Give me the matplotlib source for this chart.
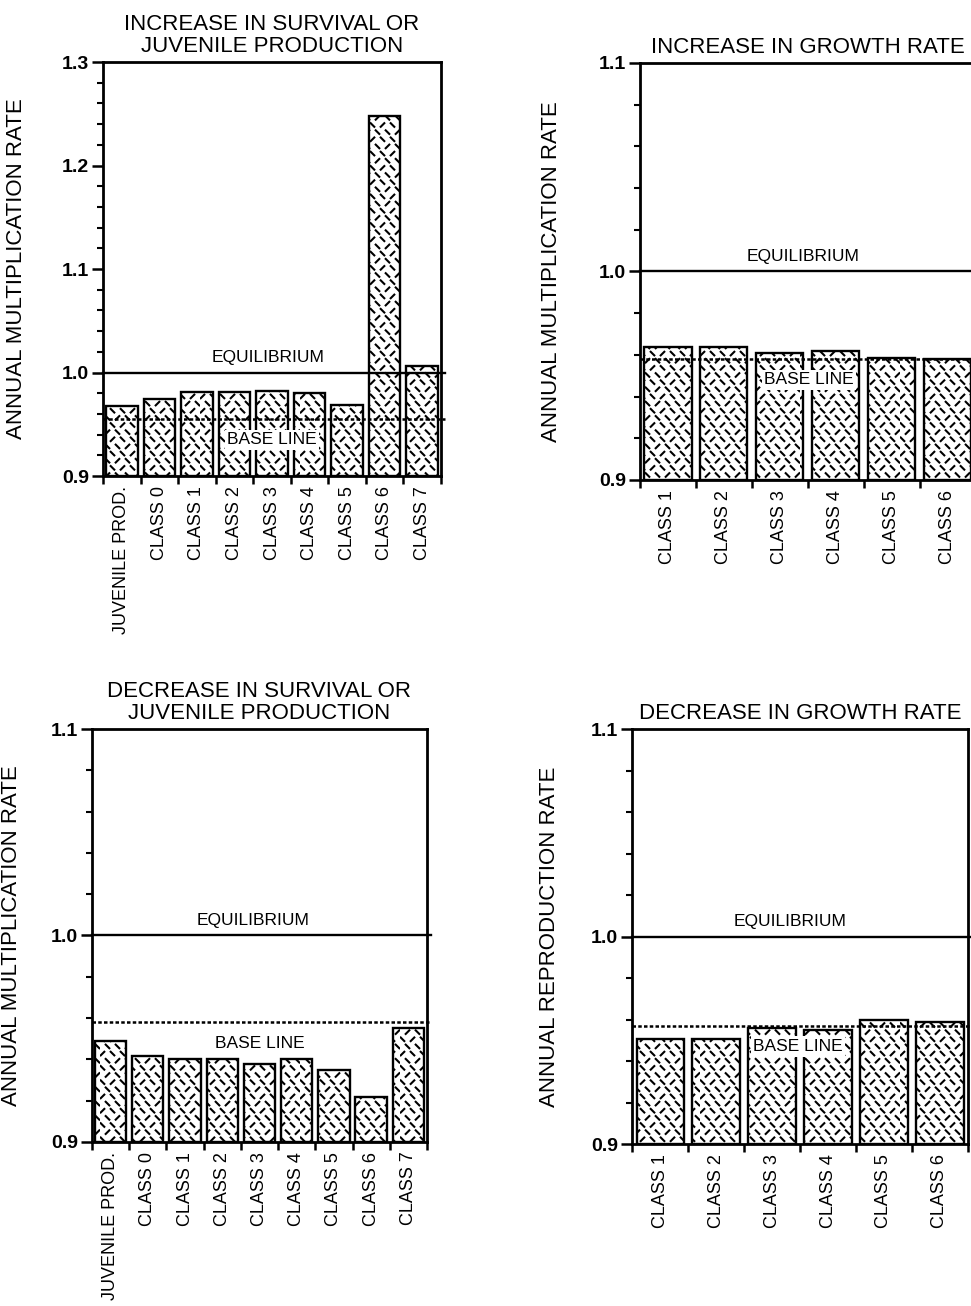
import numpy as np
import matplotlib
matplotlib.use("Agg")
import matplotlib.pyplot as plt
import matplotlib.hatch as mhatch
from matplotlib.path import Path
from matplotlib.ticker import MultipleLocator, FixedLocator

plt.rcParams['font.family'] = ['Liberation Sans', 'DejaVu Sans']
plt.rcParams['hatch.linewidth'] = 1.5

# ---- data ----
survival_classes = ["JUVENILE PROD.", "CLASS 0", "CLASS 1", "CLASS 2", "CLASS 3",
                    "CLASS 4", "CLASS 5", "CLASS 6", "CLASS 7"]
growth_classes = ["CLASS 1", "CLASS 2", "CLASS 3", "CLASS 4", "CLASS 5", "CLASS 6"]

inc_survival = [0.968, 0.974, 0.981, 0.981, 0.982, 0.980, 0.969, 1.248, 1.006]
inc_growth = [0.964, 0.964, 0.961, 0.962, 0.9585, 0.958]
dec_survival = [0.949, 0.9415, 0.940, 0.940, 0.938, 0.940, 0.935, 0.922, 0.955]
dec_growth = [0.9505, 0.9505, 0.956, 0.955, 0.960, 0.9588]

base_inc_survival = 0.955
base_inc_growth = 0.958
base_dec_survival = 0.958
base_dec_growth = 0.957
equilibrium = 1.0
y_floor = 0.9


# staggered short diagonal dashes used as the bar fill ('*' hatch)
class DashWeave(mhatch.HatchPatternBase):
    def __init__(self, hatch, density):
        k = hatch.count('*')
        self.cols = 10 * k
        self.rows = 14 * k
        self.num_lines = self.cols * self.rows
        self.num_vertices = 2 * self.num_lines

    def set_vertices_and_codes(self, vertices, codes):
        d = 0.018
        k = 0
        for j in range(self.rows):
            y = (j + 0.5) / self.rows
            shift = 0.25 if j % 2 == 0 else 0.75
            for i in range(self.cols):
                x = (i + shift) / self.cols
                s = 1 if (i + j) % 3 == 0 else -1
                vertices[k] = (x - d, y - s * d)
                vertices[k + 1] = (x + d, y + s * d)
                codes[k] = Path.MOVETO
                codes[k + 1] = Path.LINETO
                k += 2


mhatch._hatch_types = [t for t in mhatch._hatch_types if t is not mhatch.Stars] + [DashWeave]

fig = plt.figure(figsize=(9.71, 13.06), dpi=100)


def draw_panel(rect, title, labels, values, base, ymax, ylabel, ylabel_x, eq_x, base_x):
    ax = fig.add_axes(rect)
    n = len(labels)
    pos = np.arange(n) + 0.5
    heights = np.array(values) - y_floor
    ax.bar(pos, heights, bottom=y_floor, width=0.84, color='white',
           edgecolor='black', linewidth=1.7, hatch='*', zorder=2)

    ax.axhline(equilibrium, xmin=0, xmax=1.012, color='black', lw=1.7,
               clip_on=False, zorder=3)
    ax.axhline(base, xmin=0, xmax=1.012, color='black', lw=1.8,
               linestyle=(0, (1.4, 0.9)), clip_on=False, zorder=3)

    ax.annotate("EQUILIBRIUM", xy=(eq_x, equilibrium),
                xycoords=('axes fraction', 'data'), xytext=(0, 11),
                textcoords='offset points', ha='center', va='center',
                fontsize=12.5, zorder=5)
    ax.annotate("BASE LINE", xy=(base_x, base),
                xycoords=('axes fraction', 'data'), xytext=(0, -15),
                textcoords='offset points', ha='center', va='center',
                fontsize=12.5, zorder=5,
                bbox=dict(boxstyle='square,pad=0.15', fc='white', ec='none'))

    ax.set_xlim(0, n)
    ax.set_ylim(y_floor, ymax)

    major = np.arange(y_floor, ymax + 1e-6, 0.1)
    ax.set_yticks(np.round(major, 1))
    ax.set_yticklabels([f"{v:.1f}" for v in major], fontsize=14, fontweight='bold')
    ax.yaxis.set_minor_locator(MultipleLocator(0.02))
    ax.tick_params(axis='y', which='major', direction='out', length=8, width=1.8, pad=2)
    ax.tick_params(axis='y', which='minor', direction='out', length=4, width=1.5)

    # slot boundaries carry the tick marks, labels sit at the bar centres
    ax.xaxis.set_major_locator(FixedLocator(np.arange(n + 1)))
    ax.xaxis.set_minor_locator(FixedLocator(pos))
    ax.set_xticklabels([""] * (n + 1))
    ax.set_xticklabels(labels, minor=True, rotation=90, fontsize=13, va='top')
    ax.tick_params(axis='x', which='major', direction='out', length=6, width=1.8)
    ax.tick_params(axis='x', which='minor', length=0, pad=7)

    for sp in ax.spines.values():
        sp.set_linewidth(2.0)

    ax.set_title(title, fontsize=16, pad=7, linespacing=1.1)
    ax.set_ylabel(ylabel, fontsize=16)
    ax.yaxis.set_label_coords(ylabel_x, 0.5)
    return ax


draw_panel([0.1061, 0.6355, 0.3481, 0.3170],
           "INCREASE IN SURVIVAL OR\nJUVENILE PRODUCTION",
           survival_classes, inc_survival, base_inc_survival, 1.3,
           "ANNUAL MULTIPLICATION RATE", -0.225, 0.488, 0.5)

draw_panel([0.6591, 0.6325, 0.3460, 0.3193],
           "INCREASE IN GROWTH RATE",
           growth_classes, inc_growth, base_inc_growth, 1.1,
           "ANNUAL MULTIPLICATION RATE", -0.232, 0.485, 0.503)

draw_panel([0.0947, 0.1256, 0.3450, 0.3162],
           "DECREASE IN SURVIVAL OR\nJUVENILE PRODUCTION",
           survival_classes, dec_survival, base_dec_survival, 1.1,
           "ANNUAL MULTIPLICATION RATE", -0.209, 0.48, 0.5)

draw_panel([0.6509, 0.1240, 0.3460, 0.3178],
           "DECREASE IN GROWTH RATE",
           growth_classes, dec_growth, base_dec_growth, 1.1,
           "ANNUAL REPRODUCTION RATE", -0.214, 0.47, 0.494)

fig.savefig("out.png", dpi=100, facecolor='white')
